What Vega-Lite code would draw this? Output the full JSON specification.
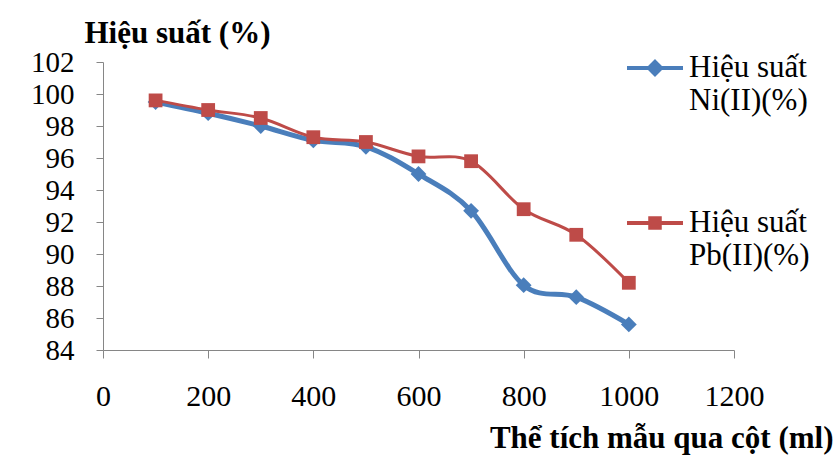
{
  "$schema": "https://vega.github.io/schema/vega-lite/v6.json",
  "width": 631,
  "height": 288,
  "autosize": {"type": "none"},
  "padding": {"left": 103, "top": 62, "right": 101, "bottom": 107},
  "background": "white",
  "config": {
    "font": "Liberation Serif",
    "view": {"stroke": null},
    "axis": {
      "grid": false,
      "domainColor": "#868686",
      "tickColor": "#868686",
      "labelColor": "black",
      "titleColor": "black",
      "labelFont": "Liberation Serif",
      "titleFont": "Liberation Serif",
      "labelFontSize": 30,
      "titleFontSize": 31,
      "titleFontWeight": "bold"
    }
  },
  "data": {
    "values": [
      {"V": 100, "series": "Hiệu suất Ni(II)(%)", "H": 99.5},
      {"V": 200, "series": "Hiệu suất Ni(II)(%)", "H": 98.8},
      {"V": 300, "series": "Hiệu suất Ni(II)(%)", "H": 98.0},
      {"V": 400, "series": "Hiệu suất Ni(II)(%)", "H": 97.1},
      {"V": 500, "series": "Hiệu suất Ni(II)(%)", "H": 96.7},
      {"V": 600, "series": "Hiệu suất Ni(II)(%)", "H": 95.0},
      {"V": 700, "series": "Hiệu suất Ni(II)(%)", "H": 92.7},
      {"V": 800, "series": "Hiệu suất Ni(II)(%)", "H": 88.05},
      {"V": 900, "series": "Hiệu suất Ni(II)(%)", "H": 87.3},
      {"V": 1000, "series": "Hiệu suất Ni(II)(%)", "H": 85.6},
      {"V": 100, "series": "Hiệu suất Pb(II)(%)", "H": 99.6},
      {"V": 200, "series": "Hiệu suất Pb(II)(%)", "H": 99.0},
      {"V": 300, "series": "Hiệu suất Pb(II)(%)", "H": 98.5},
      {"V": 400, "series": "Hiệu suất Pb(II)(%)", "H": 97.3},
      {"V": 500, "series": "Hiệu suất Pb(II)(%)", "H": 97.0},
      {"V": 600, "series": "Hiệu suất Pb(II)(%)", "H": 96.1},
      {"V": 700, "series": "Hiệu suất Pb(II)(%)", "H": 95.8},
      {"V": 800, "series": "Hiệu suất Pb(II)(%)", "H": 92.8},
      {"V": 900, "series": "Hiệu suất Pb(II)(%)", "H": 91.2},
      {"V": 1000, "series": "Hiệu suất Pb(II)(%)", "H": 88.2}
    ]
  },
  "encoding": {
    "x": {
      "field": "V", "type": "quantitative",
      "scale": {"domain": [0, 1200], "nice": false, "zero": false},
      "axis": {
        "values": [0, 200, 400, 600, 800, 1000, 1200],
        "format": "d",
        "tickSize": 8,
        "labelPadding": 23,
        "labelFlush": false,
        "labelOverlap": false,
        "labelFont": "Liberation Serif",
        "title": "Thể tích mẫu qua cột (ml)",
        "titleFont": "Liberation Serif",
        "titleAnchor": null,
        "titleAlign": "right",
        "titleBaseline": "middle",
        "titleX": 730,
        "titleY": 88
      }
    },
    "y": {
      "field": "H", "type": "quantitative",
      "scale": {"domain": [84, 102], "nice": false, "zero": false},
      "axis": {
        "values": [84, 86, 88, 90, 92, 94, 96, 98, 100, 102],
        "format": "d",
        "tickSize": 7,
        "labelPadding": 22,
        "labelFlush": false,
        "labelOverlap": false,
        "labelFont": "Liberation Serif",
        "labelFontSize": 29,
        "title": "Hiệu suất (%)",
        "titleFont": "Liberation Serif",
        "titleAngle": 0,
        "titleAlign": "center",
        "titleBaseline": "middle",
        "titleX": 74,
        "titleY": -29
      }
    }
  },
  "layer": [
    {
      "transform": [{"filter": "datum.series === 'Hiệu suất Ni(II)(%)'"}],
      "mark": {"type": "line", "color": "#4A7EBB", "strokeWidth": 5, "interpolate": "cardinal"}
    },
    {
      "transform": [{"filter": "datum.series === 'Hiệu suất Ni(II)(%)'"}],
      "mark": {"type": "point", "shape": "diamond", "filled": true, "opacity": 1, "color": "#4A7EBB", "size": 250}
    },
    {
      "transform": [{"filter": "datum.series === 'Hiệu suất Pb(II)(%)'"}],
      "mark": {"type": "line", "color": "#BE4B48", "strokeWidth": 3, "interpolate": "cardinal"}
    },
    {
      "transform": [{"filter": "datum.series === 'Hiệu suất Pb(II)(%)'"}],
      "mark": {"type": "point", "shape": "square", "filled": true, "opacity": 1, "color": "#BE4B48", "size": 190}
    },
    {
      "mark": {"type": "point", "filled": true, "opacity": 0},
      "encoding": {
        "fill": {
          "field": "series", "type": "nominal",
          "scale": {"domain": ["Hiệu suất Ni(II)(%)", "Hiệu suất Pb(II)(%)"], "range": ["#4A7EBB", "#BE4B48"]},
          "legend": {
            "title": null, "orient": "none", "legendX": 522, "legendY": -24,
            "direction": "vertical", "symbolSize": 3136, "symbolStrokeWidth": 4, "symbolOpacity": 1,
            "labelFont": "Liberation Serif", "labelFontSize": 31, "labelColor": "black", "labelLineHeight": 38,
            "labelBaseline": "middle", "labelOffset": 4, "rowPadding": 77, "labelLimit": 400,
            "labelExpr": "[slice(datum.label, 0, lastindexof(datum.label, ' ')), slice(datum.label, lastindexof(datum.label, ' ') + 1)]"
          }
        },
        "stroke": {
          "field": "series", "type": "nominal",
          "scale": {"domain": ["Hiệu suất Ni(II)(%)", "Hiệu suất Pb(II)(%)"], "range": ["#4A7EBB", "#BE4B48"]},
          "legend": {
            "title": null, "orient": "none", "legendX": 522, "legendY": -24,
            "direction": "vertical", "symbolSize": 3136, "symbolStrokeWidth": 4, "symbolOpacity": 1,
            "labelFont": "Liberation Serif", "labelFontSize": 31, "labelColor": "black", "labelLineHeight": 38,
            "labelBaseline": "middle", "labelOffset": 4, "rowPadding": 77, "labelLimit": 400,
            "labelExpr": "[slice(datum.label, 0, lastindexof(datum.label, ' ')), slice(datum.label, lastindexof(datum.label, ' ') + 1)]"
          }
        },
        "shape": {
          "field": "series", "type": "nominal",
          "scale": {"domain": ["Hiệu suất Ni(II)(%)", "Hiệu suất Pb(II)(%)"], "range": ["M-1,0H1M0,-0.22L0.22,0L0,0.22L-0.22,0Z", "M-1,0H1M-0.17,-0.17H0.17V0.17H-0.17Z"]},
          "legend": {
            "title": null, "orient": "none", "legendX": 522, "legendY": -24,
            "direction": "vertical", "symbolSize": 3136, "symbolStrokeWidth": 4, "symbolOpacity": 1,
            "labelFont": "Liberation Serif", "labelFontSize": 31, "labelColor": "black", "labelLineHeight": 38,
            "labelBaseline": "middle", "labelOffset": 4, "rowPadding": 77, "labelLimit": 400,
            "labelExpr": "[slice(datum.label, 0, lastindexof(datum.label, ' ')), slice(datum.label, lastindexof(datum.label, ' ') + 1)]"
          }
        }
      }
    }
  ]
}
